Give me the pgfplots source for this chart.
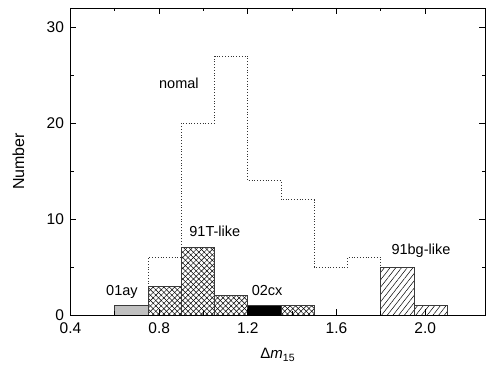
\documentclass[border=0pt]{standalone}
\usepackage{pgfplots}
\pgfplotsset{compat=1.18}
\usepackage{fontspec}
\setmainfont{Liberation Sans}
\usetikzlibrary{patterns.meta}
\definecolor{barline}{HTML}{3A3A3A}
\definecolor{lightfill}{HTML}{C0C0C0}
\begin{document}
\begin{tikzpicture}
\begin{axis}[
  scale only axis,
  width=414.5pt, height=307pt,
  xmin=0.4, xmax=2.27, ymin=0, ymax=32,
  xtick={0.4,0.8,1.2,1.6,2.0},
  ytick={0,10,20,30},
  minor x tick num=1, minor y tick num=1,
  tick align=inside,
  major tick length=6pt, minor tick length=3.5pt,
  axis line style={line width=0.9pt, black},
  every tick/.style={black, line width=0.8pt},
  axis on top,
  /pgf/number format/assume math mode=true,
  xticklabel style={/pgf/number format/.cd, fixed, fixed zerofill, precision=1, /tikz/.cd, yshift=-4pt},
  yticklabel style={xshift=-3pt},
  tick label style={font=\fontsize{15.5}{17}\selectfont},
  xlabel={Δ\textit{m}\textsubscript{15}},
  ylabel={Number},
  every axis x label/.style={at={(axis description cs:0.5,-0.13)}, anchor=center, font=\fontsize{15}{17}\selectfont},
  every axis y label/.style={at={(axis description cs:-0.1255,0.5)}, rotate=90, anchor=center, font=\fontsize{16}{18}\selectfont},
  clip=false,
]
% normal (dotted)
\addplot[const plot, dotted, line width=0.8pt, color=black!80] coordinates {
 (0.75,0) (0.75,6) (0.9,20) (1.05,27) (1.2,14) (1.35,12) (1.5,5) (1.65,6) (1.8,0)};
% 01ay
\addplot[ybar, bar shift=0pt, bar width=0.15, draw=barline, line width=0.8pt, fill=lightfill] coordinates {(0.675,1)};
% 91T-like
\addplot[ybar, bar shift=0pt, bar width=0.15, draw=barline, line width=0.8pt, fill=white,
  postaction={pattern={Lines[angle=45,distance=3.8pt,line width=0.5pt]}},
  postaction={pattern={Lines[angle=-45,distance=3.8pt,line width=0.5pt]}}]
  coordinates {(0.825,3) (0.975,7) (1.125,2) (1.425,1)};
% 02cx
\addplot[ybar, bar shift=0pt, bar width=0.15, draw=barline, line width=0.8pt, fill=black] coordinates {(1.275,1)};
% 91bg-like
\addplot[ybar, bar shift=0pt, bar width=0.15, draw=barline, line width=0.8pt, fill=white,
  postaction={pattern={Lines[angle=52,distance=4.5pt,line width=0.5pt]}}]
  coordinates {(1.875,5) (2.025,1)};
\node[font=\fontsize{14.5}{16}\selectfont] at (axis cs:0.889,24.1) {nomal};
\node[font=\fontsize{14.5}{16}\selectfont] at (axis cs:1.051,8.7) {91T-like};
\node[font=\fontsize{14.5}{16}\selectfont] at (axis cs:0.632,2.4) {01ay};
\node[font=\fontsize{14.5}{16}\selectfont] at (axis cs:1.287,2.6) {02cx};
\node[font=\fontsize{14.5}{16}\selectfont] at (axis cs:1.981,6.7) {91bg-like};
\path (axis description cs:0,0) ++(-70.5pt,-50pt) coordinate (bbsw);
\path (axis description cs:1,1) ++(1pt,8pt) coordinate (bbne);
\path (bbsw) rectangle (bbne);
\end{axis}
\end{tikzpicture}
\end{document}
